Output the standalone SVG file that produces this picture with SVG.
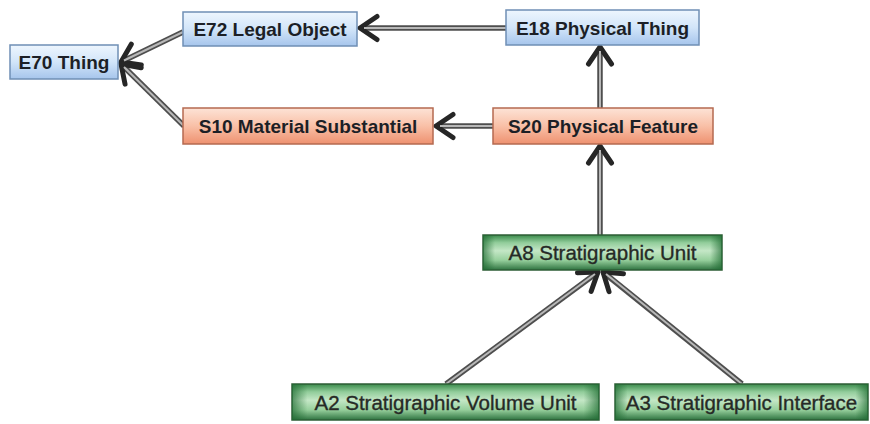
<svg xmlns="http://www.w3.org/2000/svg" width="870" height="424" viewBox="0 0 870 424">
<defs>
<linearGradient id="gBlue" x1="0" y1="0" x2="0" y2="1">
<stop offset="0" stop-color="#eef6fe"/><stop offset="0.5" stop-color="#d2e5f9"/><stop offset="1" stop-color="#a6c5ec"/>
</linearGradient>
<linearGradient id="gOrange" x1="0" y1="0" x2="0" y2="1">
<stop offset="0" stop-color="#fde3d6"/><stop offset="0.5" stop-color="#f9c0a7"/><stop offset="1" stop-color="#ee9170"/>
</linearGradient>
<linearGradient id="gGreen" x1="0" y1="0" x2="0" y2="1">
<stop offset="0" stop-color="#3a8a4b"/><stop offset="0.22" stop-color="#92cd9b"/><stop offset="0.45" stop-color="#c4e7c6"/><stop offset="0.72" stop-color="#96cf9c"/><stop offset="1" stop-color="#2e7340"/>
</linearGradient>
<linearGradient id="gGreenSide" x1="0" y1="0" x2="1" y2="0">
<stop offset="0" stop-color="#1f6a32" stop-opacity="0.7"/><stop offset="0.05" stop-color="#1f6a32" stop-opacity="0"/><stop offset="0.95" stop-color="#1f6a32" stop-opacity="0"/><stop offset="1" stop-color="#1f6a32" stop-opacity="0.7"/>
</linearGradient>
<marker id="arrow" markerUnits="userSpaceOnUse" markerWidth="34" markerHeight="34" viewBox="-24 -17 28 34" refX="0" refY="0" orient="auto">
<path d="M-17,-11.5 L0,0 L-17,11.5" fill="none" stroke="#262626" stroke-width="5" stroke-linecap="round" stroke-linejoin="round"/>
</marker>
<style>
.blue{fill:url(#gBlue);stroke:#6f8fb5;stroke-width:1.5}
.orange{fill:url(#gOrange);stroke:#b56a50;stroke-width:1.5}
.green{fill:url(#gGreen);stroke:#2e5e36;stroke-width:1.5}
.side{fill:url(#gGreenSide);stroke:none}
.t1{font-family:"Liberation Sans",Arial,sans-serif;font-weight:bold;font-size:19px;fill:#1c1f26;text-anchor:middle}
.t2{font-family:"Liberation Sans",Arial,sans-serif;font-size:20.5px;fill:#262a26;stroke:#262a26;stroke-width:0.35;text-anchor:middle}
.outer{fill:none;stroke:#4e4e4e;stroke-width:5.5;marker-end:url(#arrow)}
.inner{fill:none;stroke:#b8b8b8;stroke-width:2}
</style>
</defs>
<rect width="870" height="424" fill="#ffffff"/>
<g id="connectors">
<path class="outer" d="M183,32 L121,62"/><path class="inner" d="M183,32 L124,60.5"/>
<path class="outer" d="M184,126 L121,64"/><path class="inner" d="M184,126 L124,67"/>
<path class="outer" d="M506,28 L360,28"/><path class="inner" d="M506,28 L364,28"/>
<path class="outer" d="M493,126 L436,126"/><path class="inner" d="M493,126 L440,126"/>
<path class="outer" d="M600,108 L600,47"/><path class="inner" d="M600,108 L600,51"/>
<path class="outer" d="M600,235 L600,146"/><path class="inner" d="M600,235 L600,150"/>
<path class="outer" d="M446,384 L598,272"/><path class="inner" d="M446,384 L595,274"/>
<path class="outer" d="M742,384 L603,272"/><path class="inner" d="M742,384 L606,274"/>
</g>
<g id="E70"><rect class="blue" x="10" y="45" width="108" height="34"/><text class="t1" x="64" y="69">E70 Thing</text></g>
<g id="E72"><rect class="blue" x="183" y="12" width="174" height="34"/><text class="t1" x="270" y="36">E72 Legal Object</text></g>
<g id="E18"><rect class="blue" x="506" y="10" width="193" height="35"/><text class="t1" x="602.5" y="34.5">E18 Physical Thing</text></g>
<g id="S10"><rect class="orange" x="183" y="108" width="250" height="36"/><text class="t1" x="308" y="133">S10 Material Substantial</text></g>
<g id="S20"><rect class="orange" x="493" y="108" width="220" height="36"/><text class="t1" x="603" y="133">S20 Physical Feature</text></g>
<g id="A8"><rect class="green" x="483" y="235" width="239" height="35"/><rect class="side" x="483" y="235" width="239" height="35"/><text class="t2" x="602.5" y="260">A8 Stratigraphic Unit</text></g>
<g id="A2"><rect class="green" x="292" y="384" width="307" height="36"/><rect class="side" x="292" y="384" width="307" height="36"/><text class="t2" x="445.5" y="409.5">A2 Stratigraphic Volume Unit</text></g>
<g id="A3"><rect class="green" x="615" y="384" width="253" height="36"/><rect class="side" x="615" y="384" width="253" height="36"/><text class="t2" x="741.5" y="409.5">A3 Stratigraphic Interface</text></g>
</svg>
